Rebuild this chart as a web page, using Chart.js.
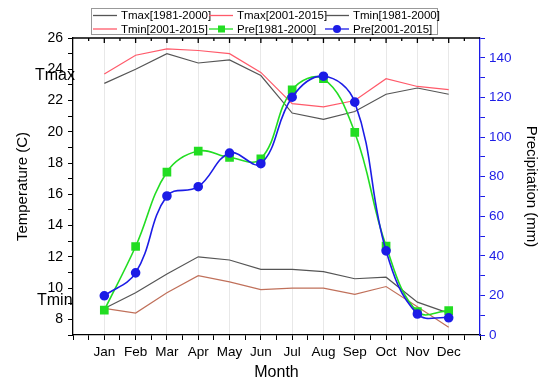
<!DOCTYPE html>
<html>
<head>
<meta charset="utf-8">
<script src="https://cdn.jsdelivr.net/npm/chart.js@4"></script>
<style>
  html, body { margin: 0; padding: 0; background: #fff; }
  #c { display: block; }
</style>
</head>
<body>
<canvas id="c" width="550" height="386"></canvas>
<script>
var months = ['Jan', 'Feb', 'Mar', 'Apr', 'May', 'Jun', 'Jul', 'Aug', 'Sep', 'Oct', 'Nov', 'Dec'];
var tmax1981 = [23.1, 24.0, 25.0, 24.4, 24.6, 23.6, 21.2, 20.8, 21.3, 22.4, 22.8, 22.4];
var tmax2001 = [23.7, 24.9, 25.3, 25.2, 25.0, 23.8, 21.8, 21.6, 22.0, 23.4, 22.9, 22.7];
var tmin1981 = [8.7, 9.7, 10.9, 12.0, 11.8, 11.2, 11.2, 11.05, 10.6, 10.7, 9.1, 8.4];
var tmin2001 = [8.7, 8.4, 9.7, 10.8, 10.4, 9.9, 10.0, 10.0, 9.6, 10.1, 8.8, 7.5];
var pre1981 = [12.6, 44.7, 82.3, 92.9, 89.7, 89.0, 123.8, 129.4, 102.3, 44.9, 11.8, 12.3];
var pre2001 = [19.8, 31.4, 70.2, 74.9, 91.9, 86.5, 120.1, 130.7, 117.6, 42.5, 10.6, 8.7];

var tempTicks = [8, 10, 12, 14, 16, 18, 20, 22, 24, 26];
var preTicks = [0, 20, 40, 60, 80, 100, 120, 140];

var FONT = 'Arial, "Liberation Sans", sans-serif';
var BLUE = '#1c1ce6';

function pts(arr) {
  return arr.map(function (v, i) { return { x: i + 1, y: v }; });
}

// legend + annotations + mirrored top ticks
var extras = {
  id: 'extras',
  afterDraw: function (chart) {
    var ctx = chart.ctx;
    var a = chart.chartArea;
    var xs = chart.scales.x;
    ctx.save();
    // top axis line and ticks
    ctx.strokeStyle = '#000';
    ctx.lineWidth = 1.3;
    ctx.beginPath();
    ctx.moveTo(a.left, a.top);
    ctx.lineTo(a.right, a.top);
    ctx.stroke();
    for (var v = 0.5; v < 13; v += 0.5) {
      var px = xs.getPixelForValue(v);
      var len = (v % 1 === 0) ? 5 : 3;
      ctx.beginPath();
      ctx.moveTo(px, a.top);
      ctx.lineTo(px, a.top + len);
      ctx.stroke();
    }

    // annotations
    ctx.fillStyle = '#000';
    ctx.font = '16px ' + FONT;
    ctx.textBaseline = 'middle';
    ctx.textAlign = 'left';
    ctx.fillText('Tmax', 35, 76);
    ctx.fillText('Tmin', 37, 301);

    // legend box
    ctx.fillStyle = '#fff';
    ctx.fillRect(91, 8, 347, 27);
    ctx.strokeStyle = '#999';
    ctx.lineWidth = 1;
    ctx.strokeRect(91.5, 8.5, 346, 26);

    var items = [
      { t: 'Tmax[1981-2000]', c: '#555', x: 93, y: 15.5 },
      { t: 'Tmax[2001-2015]', c: '#ff5a6a', x: 209, y: 15.5 },
      { t: 'Tmin[1981-2000]', c: '#555', x: 325, y: 15.5 },
      { t: 'Tmin[2001-2015]', c: '#ff5a6a', x: 93, y: 29 },
      { t: 'Pre[1981-2000]', c: '#22dd22', x: 209, y: 29, m: 'sq' },
      { t: 'Pre[2001-2015]', c: BLUE, x: 325, y: 29, m: 'ci' }
    ];
    ctx.font = '11.5px ' + FONT;
    items.forEach(function (it) {
      ctx.strokeStyle = it.c;
      ctx.lineWidth = 1.3;
      ctx.beginPath();
      ctx.moveTo(it.x, it.y);
      ctx.lineTo(it.x + 24, it.y);
      ctx.stroke();
      ctx.fillStyle = it.c;
      if (it.m === 'sq') ctx.fillRect(it.x + 9, it.y - 3.5, 7, 7);
      if (it.m === 'ci') {
        ctx.beginPath();
        ctx.arc(it.x + 12, it.y, 4, 0, Math.PI * 2);
        ctx.fill();
      }
      ctx.fillStyle = '#000';
      ctx.fillText(it.t, it.x + 28, it.y + 0.5);
    });
    ctx.restore();
  }
};

var bgPlugin = {
  id: 'bg',
  beforeDraw: function (chart) {
    var ctx = chart.ctx;
    ctx.save();
    ctx.fillStyle = '#fff';
    ctx.fillRect(0, 0, chart.width, chart.height);
    ctx.restore();
  }
};

var ctx = document.getElementById('c').getContext('2d');
var chart = new Chart(ctx, {
  type: 'line',
  data: {
    datasets: [
      { label: 'Pre[2001-2015]', data: pts(pre2001), yAxisID: 'y2', borderColor: BLUE, backgroundColor: BLUE,
        borderWidth: 1.6, pointStyle: 'circle', pointRadius: 4, tension: 0.4 },
      { label: 'Pre[1981-2000]', data: pts(pre1981), yAxisID: 'y2', borderColor: '#22dd22', backgroundColor: '#22dd22',
        borderWidth: 1.6, pointStyle: 'rect', pointRadius: 5, tension: 0.4 },
      { label: 'Tmax[1981-2000]', data: pts(tmax1981), yAxisID: 'y', borderColor: '#555', borderWidth: 1.2, pointRadius: 0, tension: 0 },
      { label: 'Tmax[2001-2015]', data: pts(tmax2001), yAxisID: 'y', borderColor: '#ff5a6a', borderWidth: 1.2, pointRadius: 0, tension: 0 },
      { label: 'Tmin[1981-2000]', data: pts(tmin1981), yAxisID: 'y', borderColor: '#555', borderWidth: 1.2, pointRadius: 0, tension: 0 },
      { label: 'Tmin[2001-2015]', data: pts(tmin2001), yAxisID: 'y', borderColor: '#c0705a', borderWidth: 1.2, pointRadius: 0, tension: 0 }
    ]
  },
  options: {
    responsive: false,
    animation: false,
    layout: { padding: { top: 38, left: 10, right: 10, bottom: 0 } },
    plugins: { legend: { display: false }, tooltip: { enabled: false } },
    scales: {
      x: {
        type: 'linear', min: 0, max: 13,
        afterFit: function (s) { s.height = 51; },
        afterBuildTicks: function (s) {
          var t = [];
          for (var v = 0; v <= 13; v += 0.5) t.push({ value: v });
          s.ticks = t;
        },
        ticks: {
          autoSkip: false, maxRotation: 0, color: '#000', padding: 4,
          font: { family: FONT, size: 13.5 },
          callback: function (v) {
            return (v % 1 === 0 && v >= 1 && v <= 12) ? months[v - 1] : '';
          }
        },
        grid: {
          color: function (c) {
            var v = c.tick ? c.tick.value : 0;
            return (v % 1 === 0 && v >= 1 && v <= 12) ? '#e8e8e8' : 'rgba(0,0,0,0)';
          },
          tickColor: '#000', tickLength: 5, lineWidth: 1
        },
        border: { color: '#000', width: 1.3 },
        title: { display: true, text: 'Month', color: '#000', font: { family: FONT, size: 16 }, padding: { top: 5 } }
      },
      y: {
        position: 'left', min: 7, max: 26,
        afterFit: function (s) { s.width = 63; },
        afterBuildTicks: function (s) {
          var t = [];
          for (var v = 7; v <= 26; v++) t.push({ value: v });
          s.ticks = t;
        },
        ticks: {
          autoSkip: false, color: '#000', padding: 5,
          font: { family: FONT, size: 14 },
          callback: function (v) { return tempTicks.indexOf(v) >= 0 ? String(v) : ''; }
        },
        grid: { drawOnChartArea: false, tickColor: '#000', tickLength: 5 },
        border: { color: '#000', width: 1.3 },
        title: { display: true, text: 'Temperature (C)', color: '#000', font: { family: FONT, size: 15 }, padding: { bottom: 0 } }
      },
      y2: {
        position: 'right', min: 0, max: 150,
        afterFit: function (s) { s.width = 60; },
        afterBuildTicks: function (s) {
          var t = [];
          for (var v = 0; v <= 150; v += 10) t.push({ value: v });
          s.ticks = t;
        },
        ticks: {
          autoSkip: false, color: BLUE, padding: 4,
          font: { family: FONT, size: 13.5 },
          callback: function (v) { return preTicks.indexOf(v) >= 0 ? String(v) : ''; }
        },
        grid: { drawOnChartArea: false, tickColor: BLUE, tickLength: 5 },
        border: { color: BLUE, width: 1.3 },
        title: { display: true, text: 'Precipitation (mm)', color: '#000', font: { family: FONT, size: 15 }, padding: { top: 0 } }
      }
    }
  },
  plugins: [bgPlugin, extras]
});
</script>
</body>
</html>
